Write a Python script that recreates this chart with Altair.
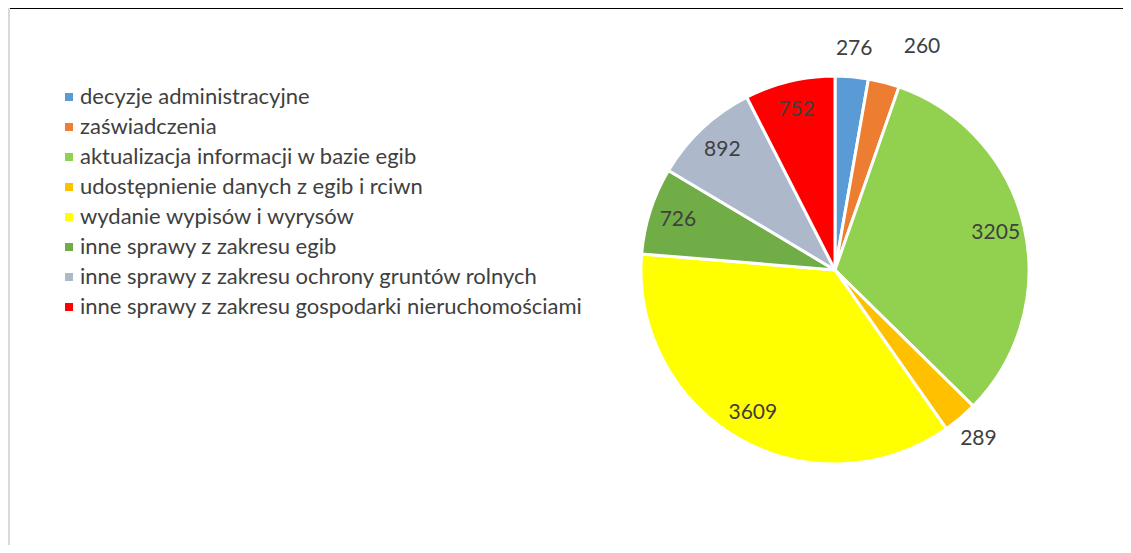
import altair as alt
import pandas as pd

categories = [
    "decyzje administracyjne",
    "zaświadczenia",
    "aktualizacja informacji w bazie egib",
    "udostępnienie danych z egib i rciwn",
    "wydanie wypisów i wyrysów",
    "inne sprawy z zakresu egib",
    "inne sprawy z zakresu ochrony gruntów rolnych",
    "inne sprawy z zakresu gospodarki nieruchomościami",
]
values = [276, 260, 3205, 289, 3609, 726, 892, 752]
colors = ["#5B9BD5", "#ED7D31", "#92D050", "#FFC000", "#FFFF00", "#70AD47", "#ADB9CA", "#FF0000"]

df = pd.DataFrame({"kategoria": categories, "wartosc": values, "idx": list(range(len(values)))})

CX, CY, R = 827, 262, 194
FONT = "Lato"

base = alt.Chart(df).encode(
    theta=alt.Theta("wartosc:Q", stack=True),
    order=alt.Order("idx:Q"),
)

pie = base.mark_arc(x=CX, y=CY, outerRadius=R, stroke="white", strokeWidth=3).encode(
    color=alt.Color(
        "kategoria:N",
        scale=alt.Scale(domain=categories, range=colors),
        sort=categories,
        legend=alt.Legend(
            title=None,
            orient="none",
            legendX=50,
            legendY=78,
            symbolType="square",
            symbolSize=64,
            symbolStrokeWidth=0,
            labelFont=FONT,
            labelFontSize=22,
            labelColor="#404040",
            rowPadding=8,
            labelLimit=800,
            labelOffset=0,
        ),
    )
)

inside = base.mark_text(x=CX, y=CY, radius=165, font=FONT, fontSize=21, color="#404040").encode(
    text=alt.condition("datum.wartosc >= 300", alt.Text("wartosc:Q"), alt.value(""))
)
outside = base.mark_text(x=CX, y=CY, radius=222, font=FONT, fontSize=21, color="#404040").encode(
    text=alt.condition(
        "datum.wartosc < 300 && datum.kategoria != 'zaświadczenia'",
        alt.Text("wartosc:Q"),
        alt.value(""),
    )
)
shifted = base.mark_text(x=CX, y=CY, radius=230, dx=29, font=FONT, fontSize=21, color="#404040").encode(
    text=alt.condition("datum.kategoria == 'zaświadczenia'", alt.Text("wartosc:Q"), alt.value(""))
)

top_line = alt.Chart(df).mark_rule(color="black", strokeWidth=2).encode(
    x=alt.value(0), x2=alt.value(1115), y=alt.value(0)
)
left_line = alt.Chart(df).mark_rule(color="#d9d9d9", strokeWidth=2).encode(
    x=alt.value(1), y=alt.value(0), y2=alt.value(537)
)

chart = (
    alt.layer(pie, inside, outside, shifted, top_line, left_line)
    .properties(width=1115, height=537, padding=0, autosize=alt.AutoSizeParams(type="none"))
    .configure_view(stroke=None)
    .configure(background="white")
)

chart.save("out.html", embed_options={"renderer": "svg", "actions": False})
